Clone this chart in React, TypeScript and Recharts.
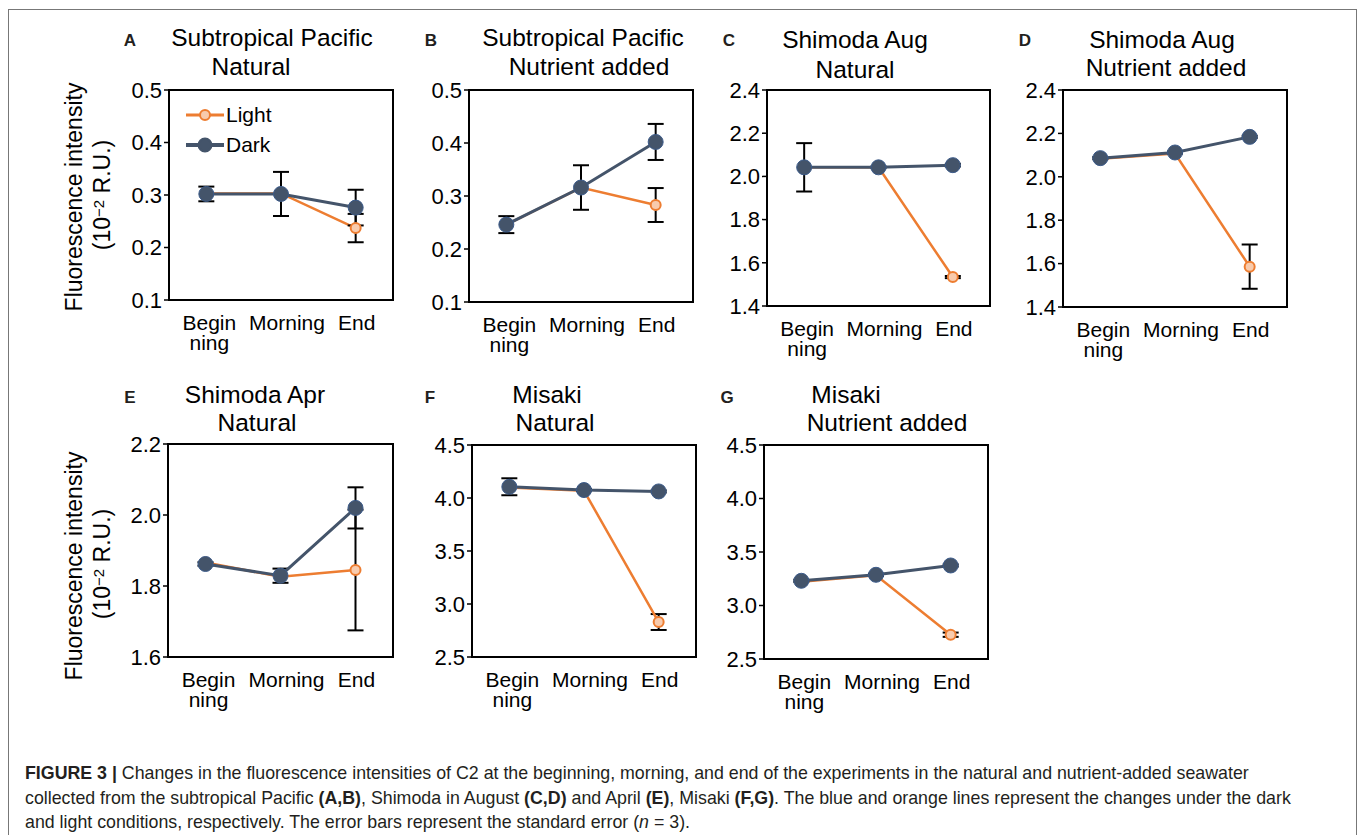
import React from "react";
import {
  LineChart, Line, XAxis, YAxis, ErrorBar, ReferenceArea, Legend,
} from "recharts";

const CATEGORIES = ["Begin\nning", "Morning", "End"];

// (A) Subtropical Pacific, natural
const A_LIGHT = [0.303, 0.303, 0.237];
const A_DARK = [0.302, 0.302, 0.276];
const A_LIGHT_ERR = [null, null, 0.027];
const A_DARK_ERR = [0.014, 0.042, 0.034];
// (B) Subtropical Pacific, nutrient added
const B_LIGHT = [0.246, 0.316, 0.283];
const B_DARK = [0.246, 0.316, 0.402];
const B_LIGHT_ERR = [null, null, 0.032];
const B_DARK_ERR = [0.016, 0.042, 0.034];
// (C) Shimoda Aug, natural
const C_LIGHT = [2.042, 2.042, 1.534];
const C_DARK = [2.042, 2.042, 2.052];
const C_LIGHT_ERR = [null, null, 0.005];
const C_DARK_ERR = [0.112, 0.004, 0.006];
// (D) Shimoda Aug, nutrient added
const D_LIGHT = [2.083, 2.107, 1.586];
const D_DARK = [2.086, 2.112, 2.184];
const D_LIGHT_ERR = [null, null, 0.102];
const D_DARK_ERR = [0.005, 0.005, 0.005];
// (E) Shimoda Apr, natural
const E_LIGHT = [1.866, 1.826, 1.845];
const E_DARK = [1.862, 1.829, 2.02];
const E_LIGHT_ERR = [null, null, 0.17];
const E_DARK_ERR = [0.005, 0.02, 0.058];
// (F) Misaki, natural
const F_LIGHT = [4.1, 4.068, 2.83];
const F_DARK = [4.106, 4.075, 4.062];
const F_LIGHT_ERR = [null, null, 0.075];
const F_DARK_ERR = [0.08, 0.01, 0.01];
// (G) Misaki, nutrient added
const G_LIGHT = [3.222, 3.282, 2.727];
const G_DARK = [3.231, 3.287, 3.374];
const G_LIGHT_ERR = [null, null, 0.02];
const G_DARK_ERR = [0.01, 0.01, 0.01];

const TICKS_SP = [0.1, 0.2, 0.3, 0.4, 0.5];
const TICKS_AUG = [1.4, 1.6, 1.8, 2.0, 2.2, 2.4];
const TICKS_APR = [1.6, 1.8, 2.0, 2.2];
const TICKS_MISAKI = [2.5, 3.0, 3.5, 4.0, 4.5];

const ORANGE = "#ed7d31";
const SLATE = "#44546a";
const FONT = "'Liberation Sans', Arial, Helvetica, sans-serif";

type Box = { l: number; t: number; r: number; b: number };
type Title = { text: string; x: number; y: number };

interface Panel {
  letter: string;
  letterPos: [number, number];
  titles: Title[];
  light: number[];
  dark: number[];
  lightErr: (number | null)[];
  darkErr: (number | null)[];
  ticks: number[];
  box: Box;
  legend?: boolean;
}

const PANELS: Panel[] = [
  {
    letter: "A", letterPos: [130, 41],
    titles: [{ text: "Subtropical Pacific", x: 272, y: 38 }, { text: "Natural", x: 251, y: 67 }],
    light: A_LIGHT, dark: A_DARK, lightErr: A_LIGHT_ERR, darkErr: A_DARK_ERR,
    ticks: TICKS_SP, box: { l: 169, t: 90, r: 393, b: 300 }, legend: true,
  },
  {
    letter: "B", letterPos: [431, 41],
    titles: [{ text: "Subtropical Pacific", x: 583, y: 38 }, { text: "Nutrient added", x: 589, y: 67 }],
    light: B_LIGHT, dark: B_DARK, lightErr: B_LIGHT_ERR, darkErr: B_DARK_ERR,
    ticks: TICKS_SP, box: { l: 469, t: 90, r: 693, b: 302 },
  },
  {
    letter: "C", letterPos: [729, 41],
    titles: [{ text: "Shimoda Aug", x: 855, y: 40 }, { text: "Natural", x: 855, y: 70 }],
    light: C_LIGHT, dark: C_DARK, lightErr: C_LIGHT_ERR, darkErr: C_DARK_ERR,
    ticks: TICKS_AUG, box: { l: 767, t: 90, r: 990, b: 306 },
  },
  {
    letter: "D", letterPos: [1025, 41],
    titles: [{ text: "Shimoda Aug", x: 1162, y: 40 }, { text: "Nutrient added", x: 1166, y: 68 }],
    light: D_LIGHT, dark: D_DARK, lightErr: D_LIGHT_ERR, darkErr: D_DARK_ERR,
    ticks: TICKS_AUG, box: { l: 1063, t: 90, r: 1287, b: 307 },
  },
  {
    letter: "E", letterPos: [130, 398],
    titles: [{ text: "Shimoda Apr", x: 255, y: 395 }, { text: "Natural", x: 257, y: 423 }],
    light: E_LIGHT, dark: E_DARK, lightErr: E_LIGHT_ERR, darkErr: E_DARK_ERR,
    ticks: TICKS_APR, box: { l: 168, t: 444, r: 393, b: 657 },
  },
  {
    letter: "F", letterPos: [430, 398],
    titles: [{ text: "Misaki", x: 547, y: 395 }, { text: "Natural", x: 555, y: 423 }],
    light: F_LIGHT, dark: F_DARK, lightErr: F_LIGHT_ERR, darkErr: F_DARK_ERR,
    ticks: TICKS_MISAKI, box: { l: 472, t: 445, r: 696, b: 657 },
  },
  {
    letter: "G", letterPos: [727, 398],
    titles: [{ text: "Misaki", x: 846, y: 395 }, { text: "Nutrient added", x: 887, y: 423 }],
    light: G_LIGHT, dark: G_DARK, lightErr: G_LIGHT_ERR, darkErr: G_DARK_ERR,
    ticks: TICKS_MISAKI, box: { l: 764, t: 445, r: 988, b: 659 },
  },
];

const Y_AXIS_W = 60;
const X_AXIS_H = 60;
const M_TOP = 20;
const M_RIGHT = 10;
// small horizontal nudge of category labels, as in the original layout
const LABEL_DX = [3, 6, 1];

function CategoryTick(props: any) {
  const { x, y, payload } = props;
  const idx = Math.floor(payload.value);
  const lines = CATEGORIES[idx].split("\n");
  const cx = x + LABEL_DX[idx];
  return (
    <g>
      {lines.map((ln, i) => (
        <text key={i} x={cx} y={y + 22 + i * 20} textAnchor="middle" fontSize={21}
          fill="#000" fontFamily={FONT}>{ln}</text>
      ))}
    </g>
  );
}

function LegendBox() {
  const rows = [
    { name: "Light", color: ORANGE, r: 5, fill: "#f8cbad", w: 3 },
    { name: "Dark", color: SLATE, r: 6.5, fill: SLATE, w: 4 },
  ];
  return (
    <svg width={110} height={60}>
      {rows.map((row, i) => (
        <g key={row.name} transform={`translate(0, ${15 + i * 30})`}>
          <line x1={2} x2={40} y1={0} y2={0} stroke={row.color} strokeWidth={row.w} />
          <circle cx={21} cy={0} r={row.r} fill={row.fill} stroke={row.color} strokeWidth={2} />
          <text x={42} y={7} fontSize={21} fontFamily={FONT} fill="#000">{row.name}</text>
        </g>
      ))}
    </svg>
  );
}

function PanelChart({ p }: { p: Panel }) {
  const data = CATEGORIES.map((c, i) => ({
    x: i + 0.5,
    name: c,
    light: p.light[i],
    dark: p.dark[i],
    lightErr: p.lightErr[i],
    darkErr: p.darkErr[i],
  }));
  const yMin = p.ticks[0];
  const yMax = p.ticks[p.ticks.length - 1];
  const w = p.box.r - p.box.l + Y_AXIS_W + M_RIGHT;
  const h = p.box.b - p.box.t + M_TOP + X_AXIS_H;
  return (
    <div style={{ position: "absolute", left: p.box.l - Y_AXIS_W, top: p.box.t - M_TOP }}>
      <LineChart width={w} height={h} data={data}
        margin={{ top: M_TOP, right: M_RIGHT, bottom: 0, left: 0 }}>
        <XAxis xAxisId="t" dataKey="x" type="number" domain={[0, 3]} ticks={[0, 1, 2, 3]}
          height={0} tick={false} axisLine={false} tickSize={7}
          tickLine={{ stroke: "#000", strokeWidth: 1.5 }} />
        <XAxis dataKey="x" type="number" domain={[0, 3]} ticks={[0.5, 1.5, 2.5]}
          height={X_AXIS_H} tickLine={false} interval={0}
          axisLine={{ stroke: "#000", strokeWidth: 2 }} tick={<CategoryTick />} />
        <YAxis type="number" domain={[yMin, yMax]} ticks={p.ticks} width={Y_AXIS_W}
          interval={0} tickFormatter={(v: number) => v.toFixed(1)} tickSize={5} tickMargin={2}
          axisLine={{ stroke: "#000", strokeWidth: 2 }} tickLine={{ stroke: "#000", strokeWidth: 1.5 }}
          tick={{ fontSize: 22, fill: "#000", fontFamily: FONT }} />
        <ReferenceArea x1={0} x2={3} y1={yMin} y2={yMax} fill="none" fillOpacity={0}
          stroke="#000" strokeWidth={2} />
        <Line dataKey="light" name="Light" stroke={ORANGE} strokeWidth={2.5} isAnimationActive={false}
          dot={{ r: 5, fill: "#f8cbad", stroke: ORANGE, strokeWidth: 2 }}>
          <ErrorBar dataKey="lightErr" width={8} stroke="#000" strokeWidth={2} direction="y" />
        </Line>
        <Line dataKey="dark" name="Dark" stroke={SLATE} strokeWidth={3} isAnimationActive={false}
          dot={{ r: 7.5, fill: SLATE, stroke: "#3c5b8a", strokeWidth: 1 }}>
          <ErrorBar dataKey="darkErr" width={8} stroke="#000" strokeWidth={2} direction="y" />
        </Line>
        {p.legend && (
          <Legend layout="vertical" align="center" verticalAlign="middle" content={() => <LegendBox />}
            wrapperStyle={{ left: 75, top: 30, width: 110, height: 60 }} />
        )}
      </LineChart>
    </div>
  );
}

const textCenter: React.CSSProperties = {
  position: "absolute",
  transform: "translate(-50%, -50%)",
  whiteSpace: "nowrap",
  fontFamily: FONT,
  color: "#000",
};

export default function App() {
  return (
    <div style={{ position: "absolute", left: 0, top: 0, width: 1357, height: 835, background: "#fff", overflow: "hidden", fontFamily: FONT }}>
      <div style={{ position: "absolute", left: 8, top: 9, width: 1347, height: 840, border: "1px solid #777" }} />
      {PANELS.map((p) => (
        <React.Fragment key={p.letter}>
          <div style={{ ...textCenter, left: p.letterPos[0], top: p.letterPos[1], fontSize: 17, fontWeight: "bold", color: "#231f20" }}>
            {p.letter}
          </div>
          {p.titles.map((t) => (
            <div key={t.text + t.y} style={{ ...textCenter, left: t.x, top: t.y, fontSize: 24.5 }}>{t.text}</div>
          ))}
          <PanelChart p={p} />
        </React.Fragment>
      ))}
      {[197, 566].map((cy) => (
        <React.Fragment key={cy}>
          <div style={{ ...textCenter, left: 74, top: cy, fontSize: 23, transform: "translate(-50%, -50%) rotate(-90deg)" }}>
            Fluorescence intensity
          </div>
          <div style={{ ...textCenter, left: 102, top: cy - 2, fontSize: 23, transform: "translate(-50%, -50%) rotate(-90deg)" }}>
            (10<sup style={{ fontSize: 15, verticalAlign: "6px", lineHeight: 0 }}>−2</sup> R.U.)
          </div>
        </React.Fragment>
      ))}
      <div style={{ position: "absolute", left: 25, top: 761, fontSize: 17.8, lineHeight: "24.5px", color: "#231f20", whiteSpace: "nowrap" }}>
        <b>FIGURE 3 |</b> Changes in the fluorescence intensities of C2 at the beginning, morning, and end of the experiments in the natural and nutrient-added seawater<br />
        collected from the subtropical Pacific <b>(A,B)</b>, Shimoda in August <b>(C,D)</b> and April <b>(E)</b>, Misaki <b>(F,G)</b>. The blue and orange lines represent the changes under the dark<br />
        and light conditions, respectively. The error bars represent the standard error (<i>n</i> = 3).
      </div>
    </div>
  );
}
